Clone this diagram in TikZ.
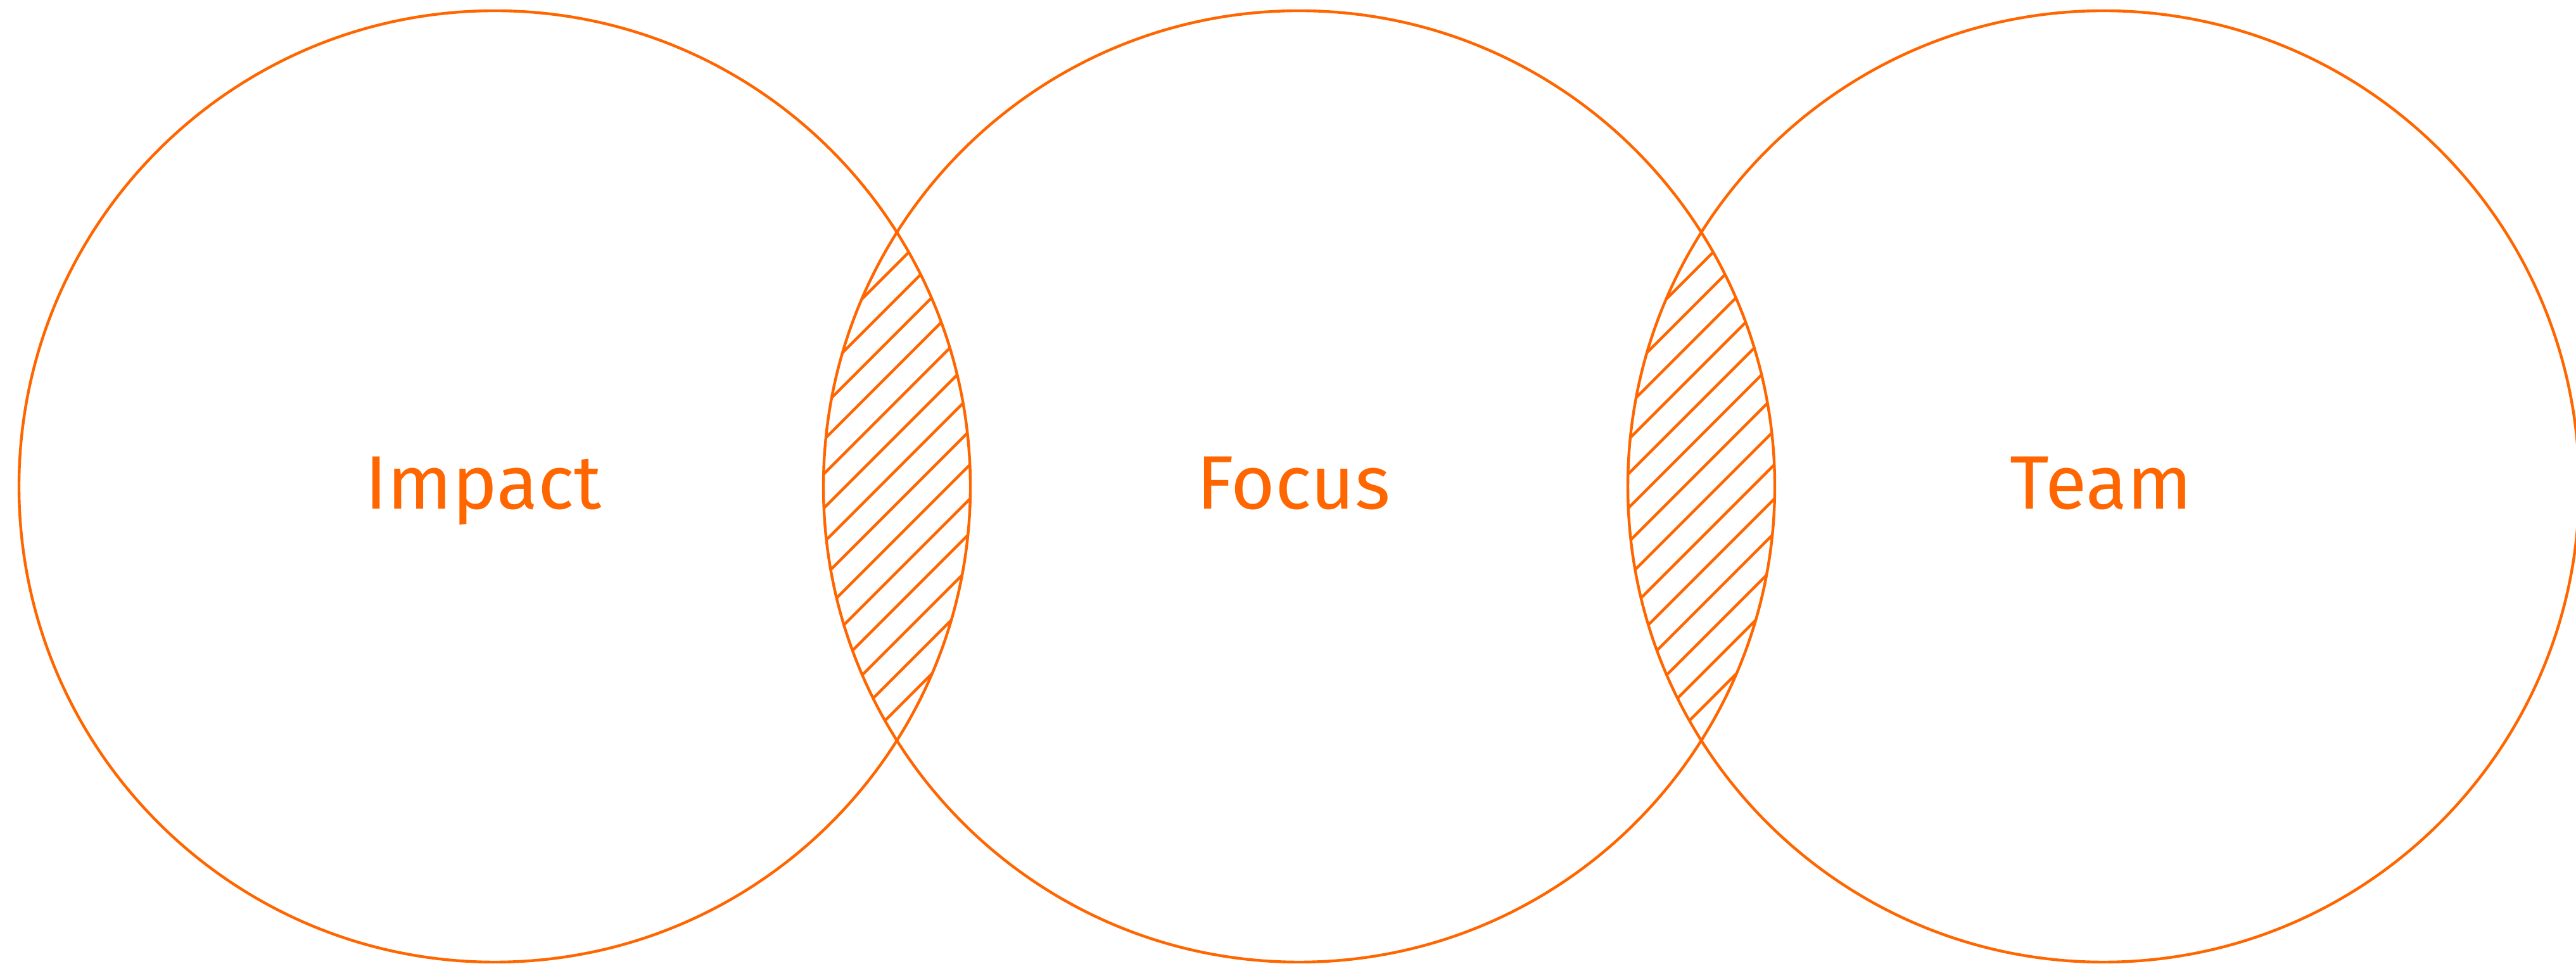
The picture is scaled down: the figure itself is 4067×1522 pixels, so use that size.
\documentclass[tikz,border=0pt]{standalone}
\usepackage{fontspec}
\setmainfont{Fira Sans}
\definecolor{vennorange}{RGB}{255,102,0}

\begin{document}
\begin{tikzpicture}[x=0.01cm,y=0.01cm,
    venn/.style={draw=vennorange,line width=1.25pt},
    hatchline/.style={draw=vennorange,line width=1.25pt},
    vennlabel/.style={text=vennorange,font=\fontsize{34}{40}\selectfont,anchor=base}]
  \useasboundingbox (0,0) rectangle (4067,1522);
  %% Hatching in the two overlaps
  \foreach \lx in {1416,2686} {
    \begin{scope}
      \clip ({\lx-635},754) circle (751);
      \clip ({\lx+635},754) circle (751);
      \foreach \k in {0,...,13}
        \draw[hatchline] ({\lx+54*\k-351-500},254) -- ({\lx+54*\k-351+500},1254);
    \end{scope}
  }
  %% Circles
  \draw[venn] (781,754) circle (751);
  \draw[venn] (2051,754) circle (751);
  \draw[venn] (3321,754) circle (751);
  %% Labels
  \node[vennlabel] (impact) at (763,718) {Impact};
  \node[vennlabel] (focus) at (2042,718) {Focus};
  \node[vennlabel] (team) at (3317,718) {Team};
\end{tikzpicture}
\end{document}
